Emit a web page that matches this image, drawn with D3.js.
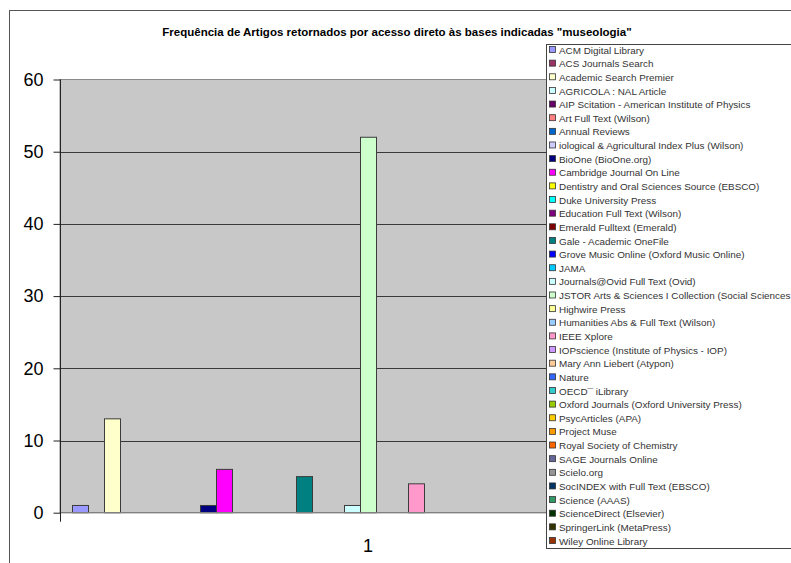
<!DOCTYPE html>
<html><head><meta charset="utf-8">
<script src="https://cdn.jsdelivr.net/npm/d3@7"></script>
<style>body{margin:0;background:#fff}svg{display:block}</style>
</head><body>
<script>
const title = 'Frequência de Artigos retornados por acesso direto às bases indicadas "museologia"';
const categories = ["1"];
const seriesNames = [
  "ACM Digital Library","ACS Journals Search","Academic Search Premier","AGRICOLA : NAL Article",
  "AIP Scitation - American Institute of Physics","Art Full Text (Wilson)","Annual Reviews",
  "iological & Agricultural Index Plus (Wilson)","BioOne (BioOne.org)","Cambridge Journal On Line",
  "Dentistry and Oral Sciences Source (EBSCO)","Duke University Press","Education Full Text (Wilson)",
  "Emerald Fulltext (Emerald)","Gale - Academic OneFile","Grove Music Online (Oxford Music Online)",
  "JAMA","Journals@Ovid Full Text (Ovid)","JSTOR Arts & Sciences I Collection (Social Sciences",
  "Highwire Press","Humanities Abs & Full Text (Wilson)","IEEE Xplore","IOPscience (Institute of Physics - IOP)",
  "Mary Ann Liebert (Atypon)","Nature","OECD\u00AF iLibrary","Oxford Journals (Oxford University Press)",
  "PsycArticles (APA)","Project Muse","Royal Society of Chemistry","SAGE Journals Online","Scielo.org",
  "SocINDEX with Full Text (EBSCO)","Science (AAAS)","ScienceDirect (Elsevier)","SpringerLink (MetaPress)",
  "Wiley Online Library"
];
const seriesValues = [1,0,13,0,0,0,0,0,1,6,0,0,0,0,5,0,0,1,52,0,0,4,0,0,0,0,0,0,0,0,0,0,0,0,0,0,0];
const yTicks = [0,10,20,30,40,50,60];
const palette = ["#9999FF","#993366","#FFFFCC","#CCFFFF","#660066","#FF8080","#0066CC","#CCCCFF","#000080",
  "#FF00FF","#FFFF00","#00FFFF","#800080","#800000","#008080","#0000FF","#00CCFF","#CCFFFF","#CCFFCC",
  "#FFFF99","#99CCFF","#FF99CC","#CC99FF","#FFCC99","#3366FF","#33CCCC","#99CC00","#FFCC00","#FF9900",
  "#FF6600","#666699","#969696","#003366","#339966","#003300","#333300","#993300"];

const W = 791, H = 563;
const svg = d3.select("body").append("svg").attr("width", W).attr("height", H);

// outer frame
svg.append("rect").attr("x", 9.5).attr("y", 10.5).attr("width", 900).attr("height", 700)
  .attr("fill", "#fff").attr("stroke", "#555").attr("stroke-width", 1);

svg.append("text").attr("x", 397).attr("y", 36).attr("text-anchor", "middle")
  .attr("font-family", "Liberation Sans, Arial, sans-serif").attr("font-weight", "bold")
  .attr("font-size", 11.5).attr("fill", "#000").text(title);

const plot = {l: 60, r: 676, t: 79.5, b: 512.7};
const y = d3.scaleLinear().domain([0, 60]).range([plot.b, plot.t]);
const x0 = d3.scaleBand().domain(categories).range([plot.l, plot.r]);
const x1 = d3.scaleBand().domain(seriesNames).range([12, x0.bandwidth() - 12]);

svg.append("rect").attr("x", plot.l).attr("y", plot.t).attr("width", plot.r - plot.l)
  .attr("height", plot.b - plot.t).attr("fill", "#C8C8C8").attr("stroke", "#8a8a8a");

// gridlines
svg.append("g").selectAll("line").data(yTicks.filter(d => d > 0 && d < 60)).join("line")
  .attr("x1", plot.l).attr("x2", plot.r).attr("y1", d => Math.round(y(d)) + 0.5).attr("y2", d => Math.round(y(d)) + 0.5)
  .attr("stroke", "#3a3a3a").attr("stroke-width", 1);

// bars
const data = [];
categories.forEach(c => seriesNames.forEach((s, i) => data.push({c, s, v: seriesValues[i], col: palette[i]})));
svg.append("g").selectAll("rect").data(data.filter(d => d.v > 0)).join("rect")
  .attr("x", d => x0(d.c) + x1(d.s) + 0.5).attr("width", x1.bandwidth())
  .attr("y", d => y(d.v)).attr("height", d => y(0) - y(d.v))
  .attr("fill", d => d.col).attr("stroke", "#3c3c3c").attr("stroke-width", 1);

// x baseline
svg.append("line").attr("x1", plot.l).attr("x2", plot.r).attr("y1", plot.b).attr("y2", plot.b)
  .attr("stroke", "#808080").attr("stroke-width", 1.2);

// y axis
const yAxis = d3.axisLeft(y).tickValues(yTicks).tickSize(7).tickPadding(10);
const gy = svg.append("g").attr("transform", `translate(${plot.l + 0.5},0)`).call(yAxis);
gy.select(".domain").remove();
gy.selectAll(".tick line").attr("stroke", "#222");
gy.selectAll("text").attr("font-family", "Liberation Sans, Arial, sans-serif").attr("font-size", 18).attr("fill", "#000");
svg.append("line").attr("x1", plot.l + 0.5).attr("x2", plot.l + 0.5).attr("y1", plot.t).attr("y2", plot.b + 9)
  .attr("stroke", "#222");

// x category label
svg.append("g").selectAll("text").data(categories).join("text")
  .attr("x", d => x0(d) + x0.bandwidth() / 2).attr("y", 552).attr("text-anchor", "middle")
  .attr("font-family", "Liberation Sans, Arial, sans-serif").attr("font-size", 18).attr("fill", "#000").text(d => d);

// legend
const lg = svg.append("g");
lg.append("rect").attr("x", 546.5).attr("y", 44.5).attr("width", 300).attr("height", 504)
  .attr("fill", "#fff").attr("stroke", "#444").attr("stroke-width", 1);
const ly = d3.scalePoint().domain(seriesNames).range([50, 541]);
const items = lg.selectAll("g.it").data(seriesNames).join("g").attr("class", "it")
  .attr("transform", d => `translate(0,${ly(d)})`);
items.append("rect").attr("x", 549.5).attr("y", -3.5).attr("width", 6).attr("height", 6)
  .attr("fill", (d, i) => palette[i]).attr("stroke", "#333").attr("stroke-width", 0.8);
items.append("text").attr("x", 559).attr("y", 3.6)
  .attr("font-family", "Liberation Sans, Arial, sans-serif").attr("font-size", 9.9).attr("fill", "#333").text(d => d);
</script>
</body></html>
